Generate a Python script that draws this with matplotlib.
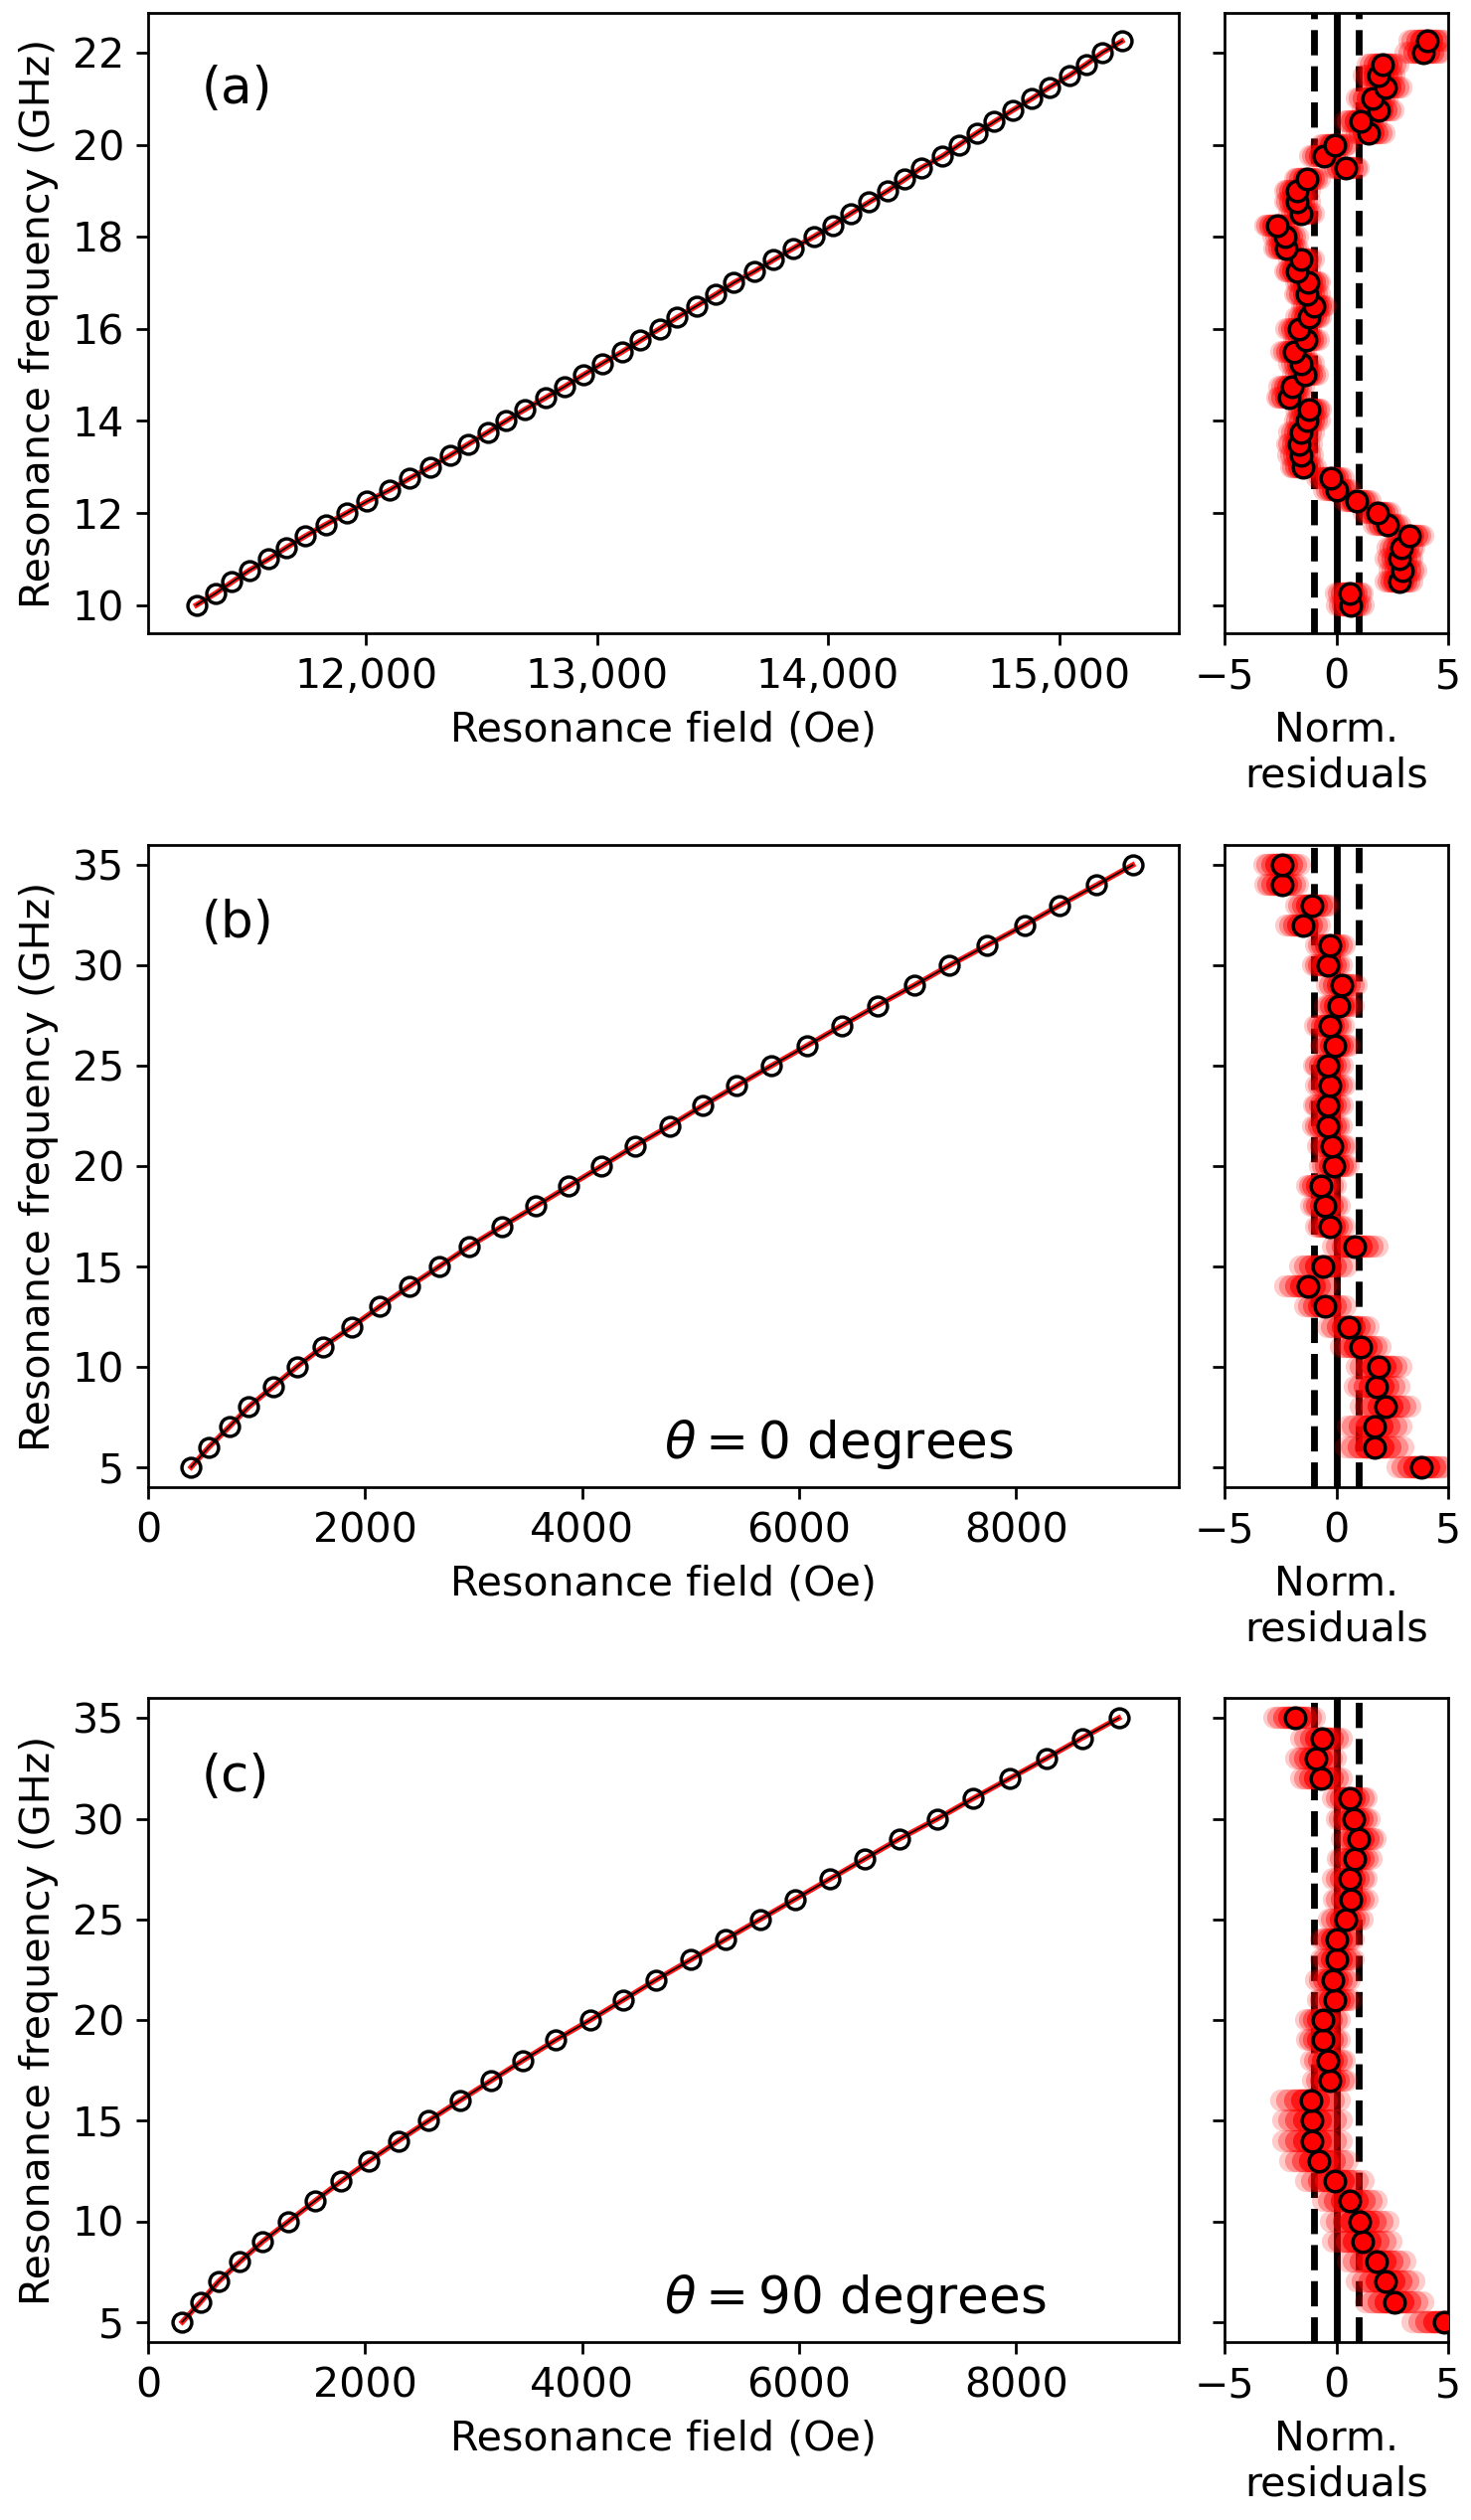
import numpy as np
import matplotlib
matplotlib.use("Agg")
import matplotlib.pyplot as plt
from matplotlib.ticker import StrMethodFormatter

# --- Datos: panel (a) ---
freq_a = [10.0, 10.25, 10.5, 10.75, 11.0, 11.25, 11.5, 11.75, 12.0, 12.25,
          12.5, 12.75, 13.0, 13.25, 13.5, 13.75, 14.0, 14.25, 14.5, 14.75,
          15.0, 15.25, 15.5, 15.75, 16.0, 16.25, 16.5, 16.75, 17.0, 17.25,
          17.5, 17.75, 18.0, 18.25, 18.5, 18.75, 19.0, 19.25, 19.5, 19.75,
          20.0, 20.25, 20.5, 20.75, 21.0, 21.25, 21.5, 21.75, 22.0, 22.25]
field_a = [11267, 11349, 11421, 11495, 11580, 11657, 11739, 11827, 11918, 12005,
           12104, 12189, 12280, 12365, 12445, 12527, 12607, 12689, 12777, 12862,
           12942, 13024, 13109, 13189, 13271, 13348, 13433, 13515, 13592, 13683,
           13765, 13850, 13938, 14020, 14097, 14177, 14259, 14333, 14405, 14495,
           14569, 14643, 14720, 14800, 14882, 14959, 15044, 15118, 15187, 15272]
resid_a = [0.63, 0.59, 2.8, 2.97, 2.82, 2.9, 3.27, 2.27, 1.83, 0.93,
           0.04, -0.26, -1.48, -1.6, -1.65, -1.56, -1.3, -1.23, -2.1, -2.0,
           -1.38, -1.56, -1.9, -1.35, -1.68, -1.23, -1.0, -1.3, -1.27, -1.75,
           -1.56, -2.25, -2.27, -2.65, -1.56, -1.75, -1.75, -1.3, 0.41, -0.56,
           -0.07, 1.45, 1.08, 1.87, 1.6, 2.2, 1.9, 2.08, 3.91, 4.06]
spread_a = [0.6, 0.6, 0.6, 0.6, 0.6, 0.6, 0.6, 0.6, 0.6, 0.6,
            0.6, 0.6, 0.55, 0.55, 0.55, 0.55, 0.55, 0.55, 0.55, 0.55,
            0.55, 0.55, 0.55, 0.55, 0.55, 0.55, 0.55, 0.55, 0.55, 0.55,
            0.55, 0.55, 0.55, 0.55, 0.55, 0.55, 0.55, 0.55, 0.6, 0.6,
            0.6, 0.7, 0.7, 0.7, 0.7, 0.7, 0.7, 0.7, 0.8, 0.8]

# --- Datos: panel (b), theta = 0 ---
freq_b = [5, 6, 7, 8, 9, 10, 11, 12, 13, 14, 15, 16, 17, 18, 19, 20,
          21, 22, 23, 24, 25, 26, 27, 28, 29, 30, 31, 32, 33, 34, 35]
field_b = [397, 561, 747, 928, 1150, 1372, 1612, 1880, 2137, 2406, 2686,
           2961, 3264, 3574, 3877, 4181, 4485, 4806, 5109, 5425, 5746,
           6073, 6394, 6721, 7060, 7387, 7731, 8076, 8403, 8742, 9075]
resid_b = [3.82, 1.71, 1.71, 2.2, 1.8, 1.91, 1.09, 0.54, -0.5, -1.27, -0.58,
           0.83, -0.28, -0.5, -0.67, -0.09, -0.18, -0.4, -0.37, -0.28, -0.37,
           -0.06, -0.3, 0.12, 0.24, -0.4, -0.28, -1.48, -1.07, -2.44, -2.44]
spread_b = [1.1, 1.3, 1.2, 1.1, 1.0, 1.0, 0.9, 0.9, 0.9, 1.0, 1.05,
            1.0, 0.65, 0.65, 0.65, 0.65, 0.65, 0.65, 0.65, 0.65, 0.65,
            0.65, 0.65, 0.65, 0.65, 0.65, 0.65, 0.75, 0.75, 0.75, 0.8]

# --- Datos: panel (c), theta = 90 ---
freq_c = freq_b
field_c = [315, 485, 648, 847, 1057, 1296, 1536, 1781, 2038, 2307, 2587,
           2873, 3165, 3457, 3755, 4076, 4380, 4683, 5004, 5320, 5641,
           5962, 6283, 6604, 6925, 7276, 7603, 7942, 8280, 8607, 8946]
resid_c = [4.81, 2.6, 2.2, 1.8, 1.16, 1.04, 0.61, -0.07, -0.77, -1.07, -1.07,
           -1.15, -0.28, -0.37, -0.58, -0.6, -0.07, -0.15, 0.04, 0.04, 0.42,
           0.64, 0.6, 0.82, 1.01, 0.76, 0.6, -0.67, -0.92, -0.66, -1.86]
spread_c = [1.4, 1.3, 1.3, 1.3, 1.3, 1.3, 1.2, 1.3, 1.3, 1.3, 1.3,
            1.3, 0.75, 0.75, 0.75, 0.75, 0.75, 0.75, 0.75, 0.75, 0.75,
            0.75, 0.75, 0.75, 0.75, 0.75, 0.75, 0.9, 0.9, 0.9, 0.9]

panels = [
    ("(a)", None, freq_a, field_a, resid_a, spread_a),
    ("(b)", r"$\theta = 0$ degrees", freq_b, field_b, resid_b, spread_b),
    ("(c)", r"$\theta = 90$ degrees", freq_c, field_c, resid_c, spread_c),
]

# --- Figura ---
W, H, DPI = 1480, 2535, 247
fig = plt.figure(figsize=(W / DPI, H / DPI), dpi=DPI)
plt.rcParams['font.size'] = 12

# filas en pixeles: (arriba, abajo)
rows = [(13, 637), (850, 1496), (1708, 2356)]
main_x = (149, 1186)
res_x = (1232, 1457)

for (label, note, freq, field, resid, spread), (top, bot) in zip(panels, rows):
    y0 = 1 - bot / H
    h = (bot - top) / H
    ax = fig.add_axes([main_x[0] / W, y0, (main_x[1] - main_x[0]) / W, h])
    axr = fig.add_axes([res_x[0] / W, y0, (res_x[1] - res_x[0]) / W, h], sharey=ax)

    # ajuste + datos
    ax.plot(field, freq, '-', color='red', lw=1.6, alpha=0.9, zorder=2)
    ax.plot(field, freq, '-', color='black', lw=0.5, zorder=3)
    ax.plot(field, freq, 'o', mfc='none', mec='black', ms=5.5, mew=1.0, zorder=4)

    ax.set_xlabel('Resonance field (Oe)')
    ax.set_ylabel('Resonance frequency (GHz)')
    ax.text(0.052, 0.877, label, transform=ax.transAxes, fontsize=15,
            ha='left', va='center')
    if note is not None:
        ax.text(0.50, 0.045, note, transform=ax.transAxes, fontsize=15,
                ha='left', va='baseline')

    if label == "(a)":
        ax.set_xlim(11058, 15518)
        ax.xaxis.set_major_formatter(StrMethodFormatter('{x:,.0f}'))
        ax.set_xticks([12000, 13000, 14000, 15000])
    else:
        ax.set_xlim(0, 9500)
        ax.set_ylim(4, 36)
        ax.set_xticks([0, 2000, 4000, 6000, 8000])
        ax.set_yticks([5, 10, 15, 20, 25, 30, 35])

    # residuos normalizados (nube roja de muestras)
    r = np.array(resid)
    s = np.array(spread)
    for frac, a in ((1.0, 0.2), (0.8, 0.3), (0.55, 0.45), (0.3, 0.7)):
        axr.hlines(freq, r - s * frac, r + s * frac, color='red', lw=6.5,
                   alpha=a, capstyle='round', zorder=2)
    axr.axvline(0, color='black', lw=2, zorder=1)
    axr.axvline(-1, color='black', lw=2, ls='--', zorder=1)
    axr.axvline(1, color='black', lw=2, ls='--', zorder=1)
    axr.plot(resid, freq, 'o', mfc='red', mec='black', ms=6, mew=1.0, zorder=3)
    axr.set_xlim(-5, 5)
    axr.set_xticks([-5, 0, 5])
    axr.set_xlabel('Norm.\nresiduals')
    axr.tick_params(axis='y', labelleft=False)

plt.savefig('out.png', dpi=DPI)
plt.close()
